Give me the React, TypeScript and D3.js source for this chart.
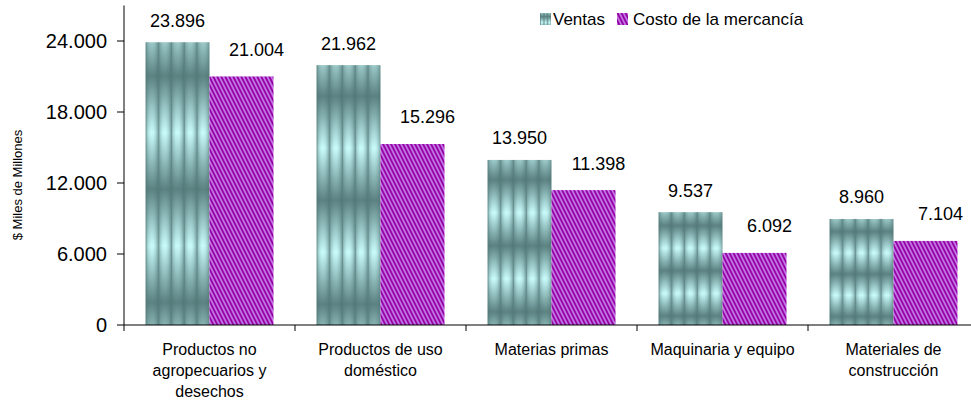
import React from "react";
import * as d3 from "d3";

const categories = [
  "Productos no\nagropecuarios y\ndesechos",
  "Productos de uso\ndoméstico",
  "Materias primas",
  "Maquinaria y equipo",
  "Materiales de\nconstrucción",
];
const ventas = [23896, 21962, 13950, 9537, 8960];
const costo = [21004, 15296, 11398, 6092, 7104];
const seriesNames = ["Ventas", "Costo de la mercancía"];
const yTicks = [0, 6000, 12000, 18000, 24000];
const yMax = 27000;
const yTitle = "$ Miles de Millones";

const W = 971;
const H = 401;
const FONT = "'Liberation Sans', Arial, Helvetica, sans-serif";

const locale = d3.formatLocale({ decimal: ",", thousands: ".", grouping: [3], currency: ["$", ""] });
const fmt = locale.format(",d");

function VentasTile({ id, x, y, w, h }: { id: string; x: number; y: number; w: number; h: number }) {
  return (
    <pattern id={id} patternUnits="userSpaceOnUse" x={x} y={y} width={w} height={h}>
      <rect x={0} y={0} width={w} height={h} fill="url(#ventasV)" />
      <rect x={0} y={0} width={w} height={h} fill="url(#ventasH)" />
      <rect x={0} y={0} width={0.8} height={h} fill="#5a7f7f" opacity={0.7} />
    </pattern>
  );
}

export default function App() {
  const x0 = d3.scaleBand<string>().domain(categories).range([124, 124 + 171 * 5]).paddingInner(0).paddingOuter(0);
  const x1 = d3.scaleBand<string>().domain(seriesNames).range([0, x0.bandwidth()]).paddingInner(0).paddingOuter(0.336);
  const y = d3.scaleLinear().domain([0, yMax]).range([325, 5.5]);
  const bw = x1.bandwidth();

  const tiles: any[] = [];
  categories.forEach((c, i) => {
    const bx = (x0(c) as number) + (x1(seriesNames[0]) as number);
    const top = y(ventas[i]);
    const hgt = y(0) - top;
    tiles.push({ id: `vt${i}`, x: bx, y: top, w: bw / 5, h: hgt / 2.5 });
  });

  return (
    <svg width={W} height={H} style={{ position: "absolute", left: 0, top: 0, background: "#fff" }} fontFamily={FONT}>
      <defs>
        <linearGradient id="ventasV" x1="0" y1="0" x2="0" y2="1">
          <stop offset="0" stopColor="#9cc9c9" />
          <stop offset="0.3" stopColor="#5c8282" />
          <stop offset="0.8" stopColor="#c9fbfb" />
          <stop offset="1" stopColor="#9cc9c9" />
        </linearGradient>
        <linearGradient id="ventasH" x1="0" y1="0" x2="1" y2="0">
          <stop offset="0" stopColor="#4a7070" stopOpacity={0.6} />
          <stop offset="0.18" stopColor="#4a7070" stopOpacity={0.22} />
          <stop offset="0.38" stopColor="#4a7070" stopOpacity={0} />
          <stop offset="0.62" stopColor="#4a7070" stopOpacity={0} />
          <stop offset="0.82" stopColor="#4a7070" stopOpacity={0.22} />
          <stop offset="1" stopColor="#4a7070" stopOpacity={0.6} />
        </linearGradient>
        {tiles.map((t) => (
          <VentasTile key={t.id} {...t} />
        ))}
        <VentasTile id="vtLegend" x={540} y={13} w={3.7} h={12} />
        <pattern id="costoPat" patternUnits="userSpaceOnUse" width={4} height={4} patternTransform="skewX(26.57)">
          <rect x={0} y={0} width={4} height={4} fill="#9400a4" />
          <rect x={0} y={0} width={1.9} height={4} fill="#c67ce8" />
        </pattern>
      </defs>

      {/* bars */}
      {categories.map((c, i) => {
        const bx0 = (x0(c) as number) + (x1(seriesNames[0]) as number);
        const bx1 = (x0(c) as number) + (x1(seriesNames[1]) as number);
        return (
          <g key={c}>
            <rect x={bx0} y={y(ventas[i])} width={bw} height={y(0) - y(ventas[i])} fill={`url(#vt${i})`} />
            <rect x={bx1} y={y(costo[i])} width={bw} height={y(0) - y(costo[i])} fill="url(#costoPat)" />
            <text x={bx0 + bw / 2} y={y(ventas[i]) - 15.5} textAnchor="middle" fontSize={18} fill="#000">
              {fmt(ventas[i])}
            </text>
            <text x={bx1 + bw / 2 + 15} y={y(costo[i]) - 20.5} textAnchor="middle" fontSize={18} fill="#000">
              {fmt(costo[i])}
            </text>
          </g>
        );
      })}

      {/* y axis */}
      <line x1={124} x2={124} y1={y(yMax)} y2={y(0)} stroke="#000" strokeWidth={1} />
      {yTicks.map((t) => (
        <g key={t}>
          <line x1={117} x2={124} y1={y(t)} y2={y(t)} stroke="#000" />
          <text x={107} y={y(t) + 7} textAnchor="end" fontSize={20} fill="#000">
            {fmt(t)}
          </text>
        </g>
      ))}
      <text transform={`translate(22,${185}) rotate(-90)`} textAnchor="middle" fontSize={13} fill="#000">
        {yTitle}
      </text>

      {/* x axis */}
      <line x1={124} x2={W} y1={y(0)} y2={y(0)} stroke="#000" />
      {categories.map((c) => (
        <line key={c} x1={x0(c)} x2={x0(c)} y1={y(0)} y2={y(0) + 6} stroke="#000" />
      ))}
      {categories.map((c) => (
        <text key={c} textAnchor="middle" fontSize={16} fill="#000">
          {c.split("\n").map((ln, k) => (
            <tspan key={k} x={(x0(c) as number) + x0.bandwidth() / 2} y={355 + k * 21}>
              {ln}
            </tspan>
          ))}
        </text>
      ))}

      {/* legend */}
      <rect x={540} y={13} width={11} height={12} fill="url(#vtLegend)" />
      <text x={553} y={25} fontSize={17} fill="#000">
        {seriesNames[0]}
      </text>
      <rect x={617} y={13} width={11} height={12} fill="url(#costoPat)" />
      <text x={633} y={25} fontSize={17} fill="#000">
        {seriesNames[1]}
      </text>
    </svg>
  );
}
